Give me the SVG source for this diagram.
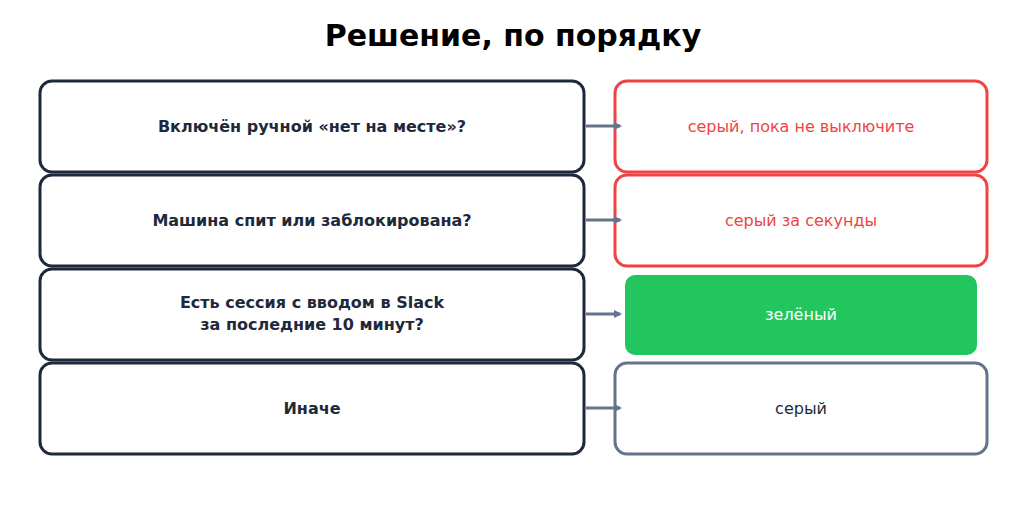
<svg xmlns="http://www.w3.org/2000/svg" width="1027" height="528" viewBox="0 0 1027 528">
<style>
.l{fill:#fff;stroke:#1e293b;stroke-width:3}
.lt{font-family:"DejaVu Sans",sans-serif;font-size:16px;font-weight:bold;fill:#1e293b;text-anchor:middle}
.rt{font-family:"DejaVu Sans",sans-serif;font-size:16px;text-anchor:middle}
.c{stroke:#64748b;stroke-width:3;fill:none;marker-end:url(#a)}
</style>
<defs><marker id="a" markerWidth="8" markerHeight="8" refX="6" refY="4" orient="auto" markerUnits="userSpaceOnUse"><path d="M0,0L8,4L0,8z" fill="#64748b"/></marker></defs>
<rect width="1027" height="528" fill="#fff"/>
<text x="513" y="46" font-family="DejaVu Sans,sans-serif" font-size="30" font-weight="bold" text-anchor="middle" fill="#000">Решение, по порядку</text>
<g id="q1"><rect class="l" x="40" y="81" width="544" height="91" rx="12"/><text class="lt" x="312" y="132">Включён ручной «нет на месте»?</text></g>
<g id="q2"><rect class="l" x="40" y="175" width="544" height="91" rx="12"/><text class="lt" x="312" y="226">Машина спит или заблокирована?</text></g>
<g id="q3"><rect class="l" x="40" y="269" width="544" height="91" rx="12"/><text class="lt" x="312" y="308">Есть сессия с вводом в Slack</text><text class="lt" x="312" y="330">за последние 10 минут?</text></g>
<g id="q4"><rect class="l" x="40" y="363" width="544" height="91" rx="12"/><text class="lt" x="312" y="414">Иначе</text></g>
<g id="r1"><rect x="615" y="81" width="372" height="91" rx="12" fill="#fff" stroke="#ef4444" stroke-width="3"/><text class="rt" x="801" y="132" fill="#ef4444">серый, пока не выключите</text></g>
<g id="r2"><rect x="615" y="175" width="372" height="91" rx="12" fill="#fff" stroke="#ef4444" stroke-width="3"/><text class="rt" x="801" y="226" fill="#ef4444">серый за секунды</text></g>
<g id="r3"><rect x="625" y="275" width="352" height="80" rx="10" fill="#22c55e"/><text class="rt" x="801" y="320" fill="#fff">зелёный</text></g>
<g id="r4"><rect x="615" y="363" width="372" height="91" rx="12" fill="#fff" stroke="#64748b" stroke-width="3"/><text class="rt" x="801" y="414" fill="#1e293b">серый</text></g>
<g id="connectors">
<path class="c" d="M586,126H620"/><path class="c" d="M586,220H620"/><path class="c" d="M586,314H620"/><path class="c" d="M586,408H620"/>
</g>
</svg>
